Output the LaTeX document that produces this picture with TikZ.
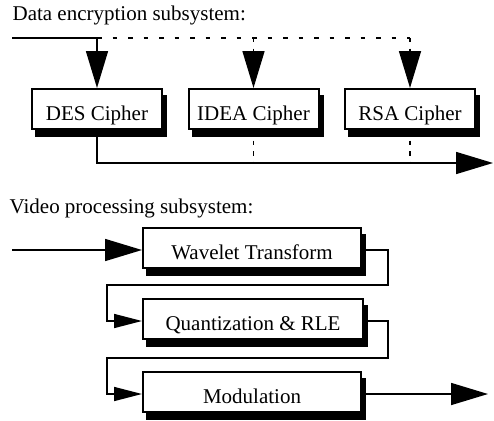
\documentclass[tikz,border=0pt]{standalone}
\usepackage{fontspec}
\setmainfont{Liberation Serif}
\usetikzlibrary{arrows.meta,shadows}

\tikzset{
  x=1pt, y=-1pt,
  every node/.style={font=\fontsize{21}{25}\selectfont},
  block/.style={draw, line width=2pt, fill=white, inner sep=0pt,
    text height=31pt, text depth=9pt, anchor=base,
    drop shadow={shadow xshift=4pt, shadow yshift=-6.5pt, fill=black,
      draw=black, line width=2pt, opacity=1}},
  caption/.style={anchor=base west, inner sep=0pt},
  wire/.style={line width=1.6pt},
  dashwire/.style={line width=1.6pt, dash pattern=on 4.5pt off 11pt},
  dotwire/.style={line width=1.6pt, dash pattern=on 4.5pt off 6pt},
  bigtip/.style={-{Triangle[length=37pt,width=22pt]}},
  smalltip/.style={-{Triangle[length=28pt,width=14pt]}},
}

\begin{document}
\begin{tikzpicture}
\useasboundingbox (0,0) rectangle (494,420);

% ---- data encryption subsystem ----
\node[caption] (t1) at (12.4,21) {Data encryption subsystem:};

\node[block, minimum width=130pt] (des)  at (97,120)    {DES Cipher};
\node[block, minimum width=130pt] (idea) at (253.5,120) {IDEA Cipher};
\node[block, minimum width=130pt] (rsa)  at (410,120)   {RSA Cipher};

\coordinate (din)  at (12,38);
\coordinate (dsplit) at (des.north |- din);
\coordinate (isplit) at (idea.north |- din);
\coordinate (rsplit) at (rsa.north |- din);

\draw[wire] (din) -- (dsplit);
\draw[dashwire] (dsplit) -- (rsplit);
\draw[wire, bigtip] (dsplit) -- (des.north);
\draw[dotwire, bigtip] (isplit) -- (idea.north);
\draw[dotwire, bigtip] (rsplit) -- (rsa.north);

\coordinate (dcorner) at (97,163);
\coordinate (dout) at (493,163);
\draw[wire, bigtip] (des.south) -- (dcorner) -- (dout);
\draw[dotwire] (idea.south) -- (idea.south |- dout);
\draw[dotwire] (rsa.south) -- (rsa.south |- dout);

% ---- video processing subsystem ----
\node[caption] (t2) at (9.5,213) {Video processing subsystem:};

\node[block, minimum width=218pt] (wt)  at (252,259)   {Wavelet Transform};
\node[block, minimum width=220pt] (qr)  at (253,330)   {Quantization \& RLE};
\node[block, minimum width=218pt] (mod) at (252,403)   {Modulation};

\coordinate (vin) at (12,250);
\draw[wire, bigtip] (vin) -- ([yshift=9pt]wt.base west);

\draw[wire, smalltip] ([yshift=9pt]wt.base east) -- (388,250) -- (388,285)
  -- (107,285) -- (107,321) -- ([yshift=9pt]qr.base west);
\draw[wire, smalltip] ([yshift=9pt]qr.base east) -- (388,321) -- (388,358)
  -- (107,358) -- (107,394) -- ([yshift=9pt]mod.base west);

\coordinate (vout) at (488,394);
\draw[wire, bigtip] ([yshift=9pt]mod.base east) -- (vout);
\end{tikzpicture}
\end{document}
